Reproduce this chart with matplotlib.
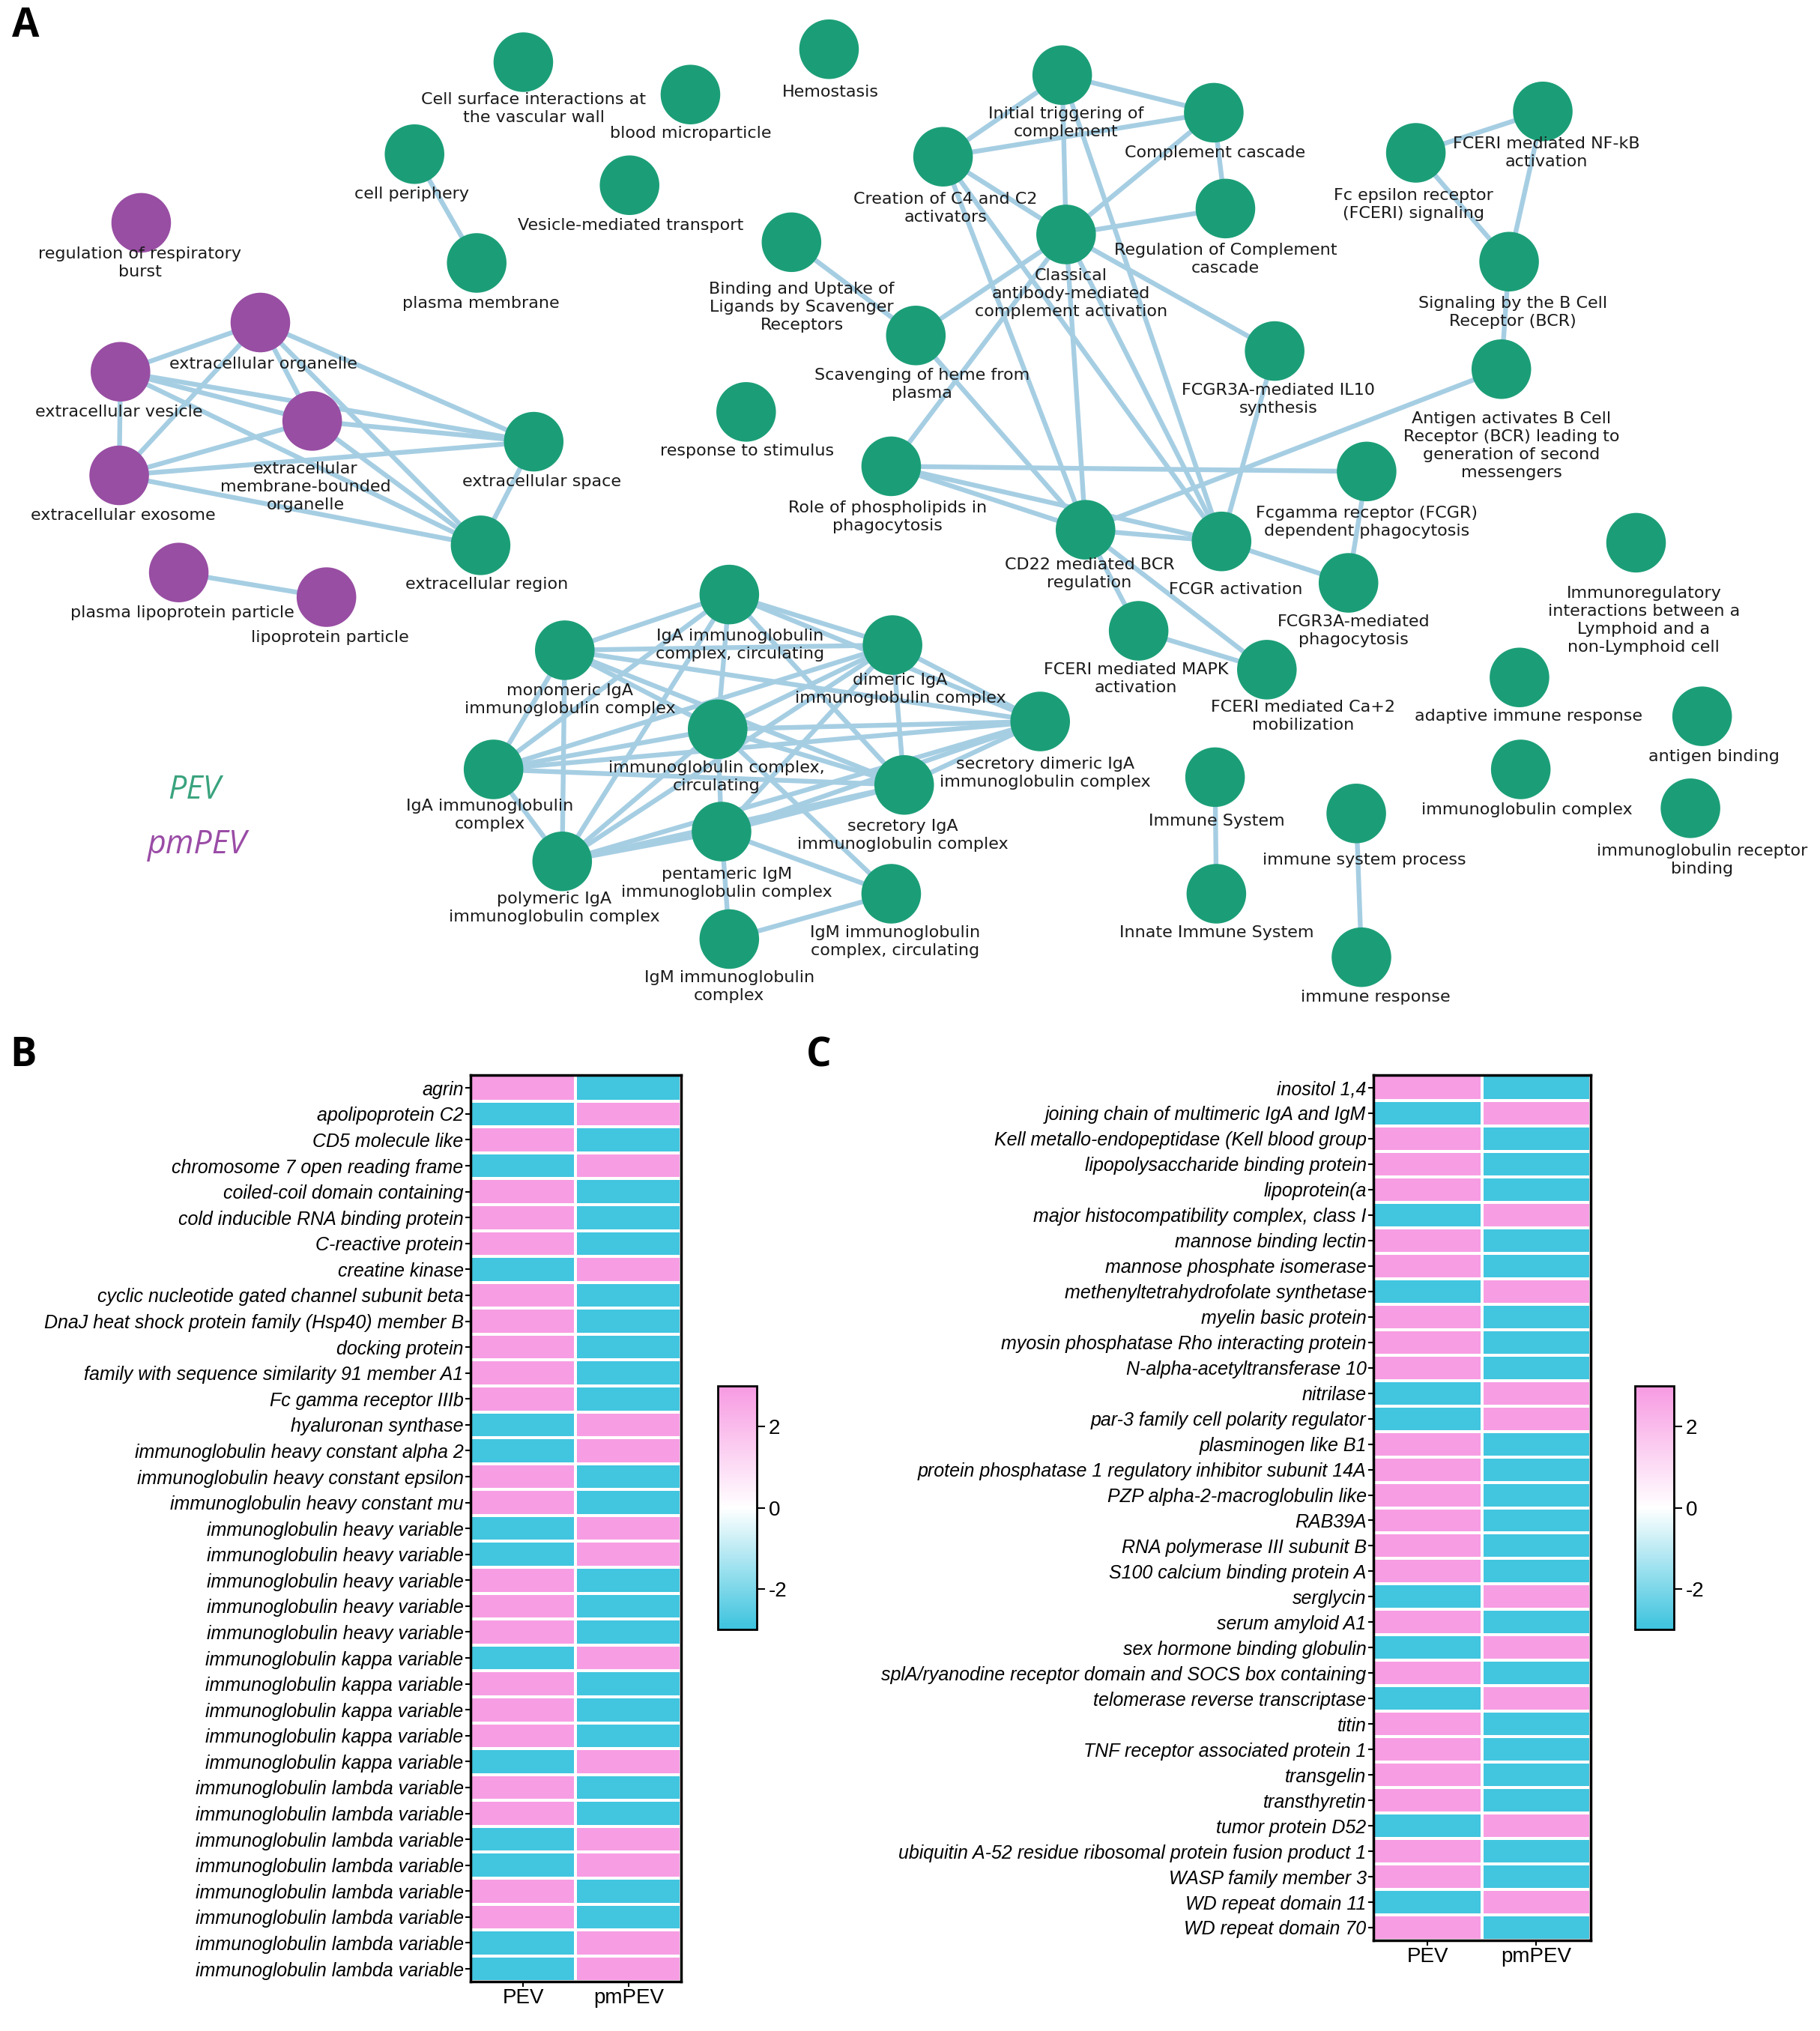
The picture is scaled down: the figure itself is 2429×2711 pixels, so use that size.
import matplotlib
matplotlib.use("Agg")
import matplotlib.pyplot as plt
from matplotlib.patches import Circle
from matplotlib.colors import LinearSegmentedColormap
import numpy as np

plt.rcParams['font.family'] = ['Liberation Sans', 'DejaVu Sans']
plt.rcParams['axes.unicode_minus'] = False

# ---------------- panel A: enrichment network ----------------
# node positions / label centres are in px of the 1405 x 1568 page layout
node_ids = ['csi', 'bmp', 'hemo', 'cper', 'pmem', 'vmt', 'rrb', 'eorg', 'eves', 'embo',
            'exo', 'espace', 'eregion', 'plp', 'lpp', 'bind', 'c4c2', 'init', 'ccasc', 'regcc',
            'class', 'scav', 'resp', 'il10', 'phos', 'cd22', 'fcgra', 'fcgrp', 'r3aph', 'mapk',
            'ca2', 'nfkb', 'fceri', 'bcr', 'antig', 'immreg', 'adapt', 'agbind', 'igc', 'igrb',
            'immsys', 'innate', 'isp', 'iresp', 'igac', 'monoiga', 'dimiga', 'igcc', 'secdim', 'igacx',
            'seciga', 'pentigm', 'polyiga', 'igmc', 'igmcx']
node_x = [404, 533, 640, 320, 368, 486, 109, 201, 93, 241,
          92, 412, 371, 138, 252, 611, 728, 820, 937, 946,
          823, 707, 576, 984, 688, 838, 943, 1055, 1041, 879,
          978, 1191, 1093, 1165, 1159, 1263, 1173, 1314, 1174, 1305,
          938, 939, 1047, 1051, 563, 436, 689, 554, 803, 381,
          698, 557, 434, 688, 563]
node_y = [48, 73, 38, 119, 203, 143, 172, 249, 287, 325,
          367, 341, 421, 442, 461, 187, 121, 58, 87, 161,
          181, 259, 318, 271, 360, 409, 418, 364, 450, 487,
          517, 86, 118, 202, 285, 419, 523, 553, 594, 624,
          600, 690, 628, 739, 459, 502, 498, 563, 557, 594,
          606, 642, 665, 690, 725]
node_set = ['PEV'] * 6 + ['pmPEV'] * 5 + ['PEV'] * 2 + ['pmPEV'] * 2 + ['PEV'] * 40
node_labels = [
    'Cell surface interactions at\nthe vascular wall', 'blood microparticle', 'Hemostasis',
    'cell periphery', 'plasma membrane', 'Vesicle-mediated transport',
    'regulation of respiratory\nburst', 'extracellular organelle', 'extracellular vesicle',
    'extracellular\nmembrane-bounded\norganelle', 'extracellular exosome', 'extracellular space',
    'extracellular region', 'plasma lipoprotein particle', 'lipoprotein particle',
    'Binding and Uptake of\nLigands by Scavenger\nReceptors', 'Creation of C4 and C2\nactivators',
    'Initial triggering of\ncomplement', 'Complement cascade', 'Regulation of Complement\ncascade',
    'Classical\nantibody-mediated\ncomplement activation', 'Scavenging of heme from\nplasma',
    'response to stimulus', 'FCGR3A-mediated IL10\nsynthesis', 'Role of phospholipids in\nphagocytosis',
    'CD22 mediated BCR\nregulation', 'FCGR activation', 'Fcgamma receptor (FCGR)\ndependent phagocytosis',
    'FCGR3A-mediated\nphagocytosis', 'FCERI mediated MAPK\nactivation', 'FCERI mediated Ca+2\nmobilization',
    'FCERI mediated NF-kB\nactivation', 'Fc epsilon receptor\n(FCERI) signaling',
    'Signaling by the B Cell\nReceptor (BCR)',
    'Antigen activates B Cell\nReceptor (BCR) leading to\ngeneration of second\nmessengers',
    'Immunoregulatory\ninteractions between a\nLymphoid and a\nnon-Lymphoid cell',
    'adaptive immune response', 'antigen binding', 'immunoglobulin complex',
    'immunoglobulin receptor\nbinding', 'Immune System', 'Innate Immune System',
    'immune system process', 'immune response',
    'IgA immunoglobulin\ncomplex, circulating', 'monomeric IgA\nimmunoglobulin complex',
    'dimeric IgA\nimmunoglobulin complex', 'immunoglobulin complex,\ncirculating',
    'secretory dimeric IgA\nimmunoglobulin complex', 'IgA immunoglobulin\ncomplex',
    'secretory IgA\nimmunoglobulin complex', 'pentameric IgM\nimmunoglobulin complex',
    'polymeric IgA\nimmunoglobulin complex', 'IgM immunoglobulin\ncomplex, circulating',
    'IgM immunoglobulin\ncomplex']
label_x = [412, 533, 641, 318, 371, 487, 108, 203, 92, 236,
           95, 418, 376, 141, 255, 619, 730, 823, 938, 946,
           827, 712, 577, 987, 685, 841, 954, 1055, 1045, 877,
           1006, 1194, 1091, 1168, 1167, 1269, 1180, 1323, 1179, 1314,
           939, 939, 1053, 1062, 571, 440, 695, 553, 807, 378,
           697, 561, 428, 691, 563]
label_y = [84, 103, 71, 150, 234, 174, 203, 281, 318, 376,
           398, 372, 451, 473, 492, 237, 161, 95, 118, 200,
           227, 297, 348, 308, 399, 443, 455, 403, 487, 524,
           553, 118, 158, 241, 344, 479, 553, 584, 625, 664,
           634, 720, 664, 770, 498, 540, 532, 600, 597, 629,
           645, 682, 701, 727, 762]
edges = [
    ('cper', 'pmem'), ('plp', 'lpp'),
    ('eorg', 'eves'), ('eorg', 'exo'), ('eorg', 'embo'), ('eorg', 'espace'), ('eorg', 'eregion'),
    ('eves', 'embo'), ('eves', 'exo'), ('eves', 'espace'), ('eves', 'eregion'),
    ('embo', 'exo'), ('embo', 'espace'), ('embo', 'eregion'),
    ('exo', 'espace'), ('exo', 'eregion'), ('espace', 'eregion'),
    ('init', 'c4c2'), ('init', 'ccasc'), ('init', 'class'), ('init', 'fcgra'),
    ('c4c2', 'ccasc'), ('c4c2', 'class'), ('c4c2', 'cd22'), ('c4c2', 'fcgra'),
    ('ccasc', 'regcc'), ('ccasc', 'class'), ('class', 'regcc'),
    ('class', 'scav'), ('class', 'phos'), ('class', 'cd22'), ('class', 'fcgra'), ('class', 'il10'),
    ('bind', 'scav'), ('scav', 'cd22'),
    ('phos', 'cd22'), ('phos', 'fcgra'), ('phos', 'fcgrp'),
    ('cd22', 'fcgra'), ('cd22', 'antig'), ('cd22', 'mapk'), ('cd22', 'ca2'),
    ('fcgra', 'il10'), ('fcgra', 'r3aph'), ('fcgrp', 'r3aph'), ('mapk', 'ca2'),
    ('antig', 'bcr'), ('bcr', 'nfkb'), ('bcr', 'fceri'), ('fceri', 'nfkb'),
    ('immsys', 'innate'), ('isp', 'iresp'),
    ('igac', 'monoiga'), ('igac', 'dimiga'), ('igac', 'igcc'), ('igac', 'igacx'), ('igac', 'polyiga'),
    ('igac', 'secdim'), ('igac', 'seciga'),
    ('monoiga', 'dimiga'), ('monoiga', 'igcc'), ('monoiga', 'igacx'), ('monoiga', 'polyiga'),
    ('monoiga', 'seciga'), ('monoiga', 'secdim'),
    ('dimiga', 'igcc'), ('dimiga', 'igacx'), ('dimiga', 'polyiga'), ('dimiga', 'seciga'),
    ('dimiga', 'secdim'), ('dimiga', 'pentigm'),
    ('igcc', 'igacx'), ('igcc', 'polyiga'), ('igcc', 'seciga'), ('igcc', 'secdim'),
    ('igcc', 'pentigm'), ('igcc', 'igmc'),
    ('igacx', 'polyiga'), ('igacx', 'seciga'), ('igacx', 'secdim'),
    ('polyiga', 'pentigm'), ('polyiga', 'seciga'), ('polyiga', 'secdim'),
    ('pentigm', 'seciga'), ('pentigm', 'igmcx'), ('pentigm', 'igmc'), ('pentigm', 'secdim'),
    ('seciga', 'secdim'), ('igmcx', 'igmc'),
]

set_colors = {'PEV': '#1B9E77', 'pmPEV': '#984EA3'}

# ---------------- panels B / C: heatmaps ----------------
genes_b = ['agrin', 'apolipoprotein C2', 'CD5 molecule like', 'chromosome 7 open reading frame',
           'coiled-coil domain containing', 'cold inducible RNA binding protein', 'C-reactive protein',
           'creatine kinase', 'cyclic nucleotide gated channel subunit beta',
           'DnaJ heat shock protein family (Hsp40) member B', 'docking protein',
           'family with sequence similarity 91 member A1', 'Fc gamma receptor IIIb',
           'hyaluronan synthase', 'immunoglobulin heavy constant alpha 2',
           'immunoglobulin heavy constant epsilon', 'immunoglobulin heavy constant mu'] \
    + ['immunoglobulin heavy variable'] * 5 + ['immunoglobulin kappa variable'] * 5 \
    + ['immunoglobulin lambda variable'] * 8
pev_b = [2.9, -2.9, 2.9, -2.9, 2.9, 2.9, 2.9, -2.9, 2.9, 2.9, 2.9, 2.9, 2.9, -2.9, -2.9, 2.9, 2.9,
         -2.9, -2.9, 2.9, 2.9, 2.9,
         -2.9, 2.9, 2.9, 2.9, -2.9,
         2.9, 2.9, -2.9, -2.9, 2.9, 2.9, -2.9, -2.9]
pmpev_b = [-2.9, 2.9, -2.9, 2.9, -2.9, -2.9, -2.9, 2.9, -2.9, -2.9, -2.9, -2.9, -2.9, 2.9, 2.9, -2.9, -2.9,
           2.9, 2.9, -2.9, -2.9, -2.9,
           2.9, -2.9, -2.9, -2.9, 2.9,
           -2.9, -2.9, 2.9, 2.9, -2.9, -2.9, 2.9, 2.9]

genes_c = ['inositol 1,4', 'joining chain of multimeric IgA and IgM', 'Kell metallo-endopeptidase (Kell blood group',
           'lipopolysaccharide binding protein', 'lipoprotein(a', 'major histocompatibility complex, class I',
           'mannose binding lectin', 'mannose phosphate isomerase', 'methenyltetrahydrofolate synthetase',
           'myelin basic protein', 'myosin phosphatase Rho interacting protein', 'N-alpha-acetyltransferase 10',
           'nitrilase', 'par-3 family cell polarity regulator', 'plasminogen like B1',
           'protein phosphatase 1 regulatory inhibitor subunit 14A', 'PZP alpha-2-macroglobulin like',
           'RAB39A', 'RNA polymerase III subunit B', 'S100 calcium binding protein A', 'serglycin',
           'serum amyloid A1', 'sex hormone binding globulin',
           'splA/ryanodine receptor domain and SOCS box containing', 'telomerase reverse transcriptase',
           'titin', 'TNF receptor associated protein 1', 'transgelin', 'transthyretin', 'tumor protein D52',
           'ubiquitin A-52 residue ribosomal protein fusion product 1', 'WASP family member 3',
           'WD repeat domain 11', 'WD repeat domain 70']
pev_c = [2.9, -2.9, 2.9, 2.9, 2.9, -2.9, 2.9, 2.9, -2.9, 2.9, 2.9, 2.9, -2.9, -2.9, 2.9, 2.9, 2.9,
         2.9, 2.9, 2.9, -2.9, 2.9, -2.9, 2.9, -2.9, 2.9, 2.9, 2.9, 2.9, -2.9, 2.9, 2.9, -2.9, 2.9]
pmpev_c = [-2.9, 2.9, -2.9, -2.9, -2.9, 2.9, -2.9, -2.9, 2.9, -2.9, -2.9, -2.9, 2.9, 2.9, -2.9, -2.9, -2.9,
           -2.9, -2.9, -2.9, 2.9, -2.9, 2.9, -2.9, 2.9, -2.9, -2.9, -2.9, -2.9, 2.9, -2.9, -2.9, 2.9, -2.9]
col_labels = ['PEV', 'pmPEV']

fig = plt.figure(figsize=(24.29, 27.11), dpi=100)

# network axes covers the whole page, in layout px
axA = fig.add_axes([0, 0, 1, 1])
axA.set_xlim(0, 1405)
axA.set_ylim(1568, 0)
axA.axis('off')

pos = {k: (x, y) for k, x, y in zip(node_ids, node_x, node_y)}
for a, b in edges:
    axA.plot([pos[a][0], pos[b][0]], [pos[a][1], pos[b][1]], color='#A6CEE3', lw=4.6,
             solid_capstyle='round', zorder=1)
for k, s in zip(node_ids, node_set):
    axA.add_patch(Circle(pos[k], 23, color=set_colors[s], zorder=2, lw=0))
for txt, lx, ly in zip(node_labels, label_x, label_y):
    axA.text(lx, ly, txt, ha='center', va='center', fontsize=16, family='DejaVu Sans',
             color='#1a1a1a', linespacing=1.25, zorder=3)

axA.text(150, 610, 'PEV', color='#3AA37E', fontsize=31, style='italic', family='Open Sans',
         ha='center', va='center')
axA.text(152, 652, 'pmPEV', color='#9A4CA6', fontsize=31, style='italic', family='Open Sans',
         ha='center', va='center')

for letter, lx, ly in [('A', 20, 20), ('B', 18, 815), ('C', 632, 815)]:
    axA.text(lx, ly, letter, fontsize=38, fontweight='bold', family='Open Sans',
             ha='center', va='center')

cmap = LinearSegmentedColormap.from_list('cyan_pink', ['#3CC3DE', '#FFFFFF', '#F79AE2'])


def heatmap(rect, cbar_rect, genes, pev, pmpev):
    ax = fig.add_axes(rect)
    vals = np.column_stack([pev, pmpev])
    mesh = ax.pcolormesh(vals, cmap=cmap, vmin=-3, vmax=3, edgecolors='white', linewidth=1.6)
    ax.set_ylim(len(genes), 0)
    ax.set_xlim(0, 2)
    ax.set_yticks(np.arange(len(genes)) + 0.5, genes, fontstyle='italic', fontsize=18)
    ax.set_xticks([0.5, 1.5], col_labels, fontsize=20)
    ax.tick_params(length=5, width=1.5, pad=1.5)
    for sp in ax.spines.values():
        sp.set_linewidth(2.5)
    cax = fig.add_axes(cbar_rect)
    cb = fig.colorbar(mesh, cax=cax, ticks=[-2, 0, 2])
    cb.outline.set_linewidth(2)
    cax.tick_params(labelsize=20, length=8, width=1.5)
    return ax


heatmap([363 / 1405, 1 - 1530 / 1568, 163 / 1405, 700 / 1568],
        [554 / 1405, 1 - 1258 / 1568, 30 / 1405, 188 / 1568], genes_b, pev_b, pmpev_b)
heatmap([1060 / 1405, 1 - 1498 / 1568, 168 / 1405, 668 / 1568],
        [1262 / 1405, 1 - 1258 / 1568, 30 / 1405, 188 / 1568], genes_c, pev_c, pmpev_c)

fig.savefig('out.png', dpi=100)
